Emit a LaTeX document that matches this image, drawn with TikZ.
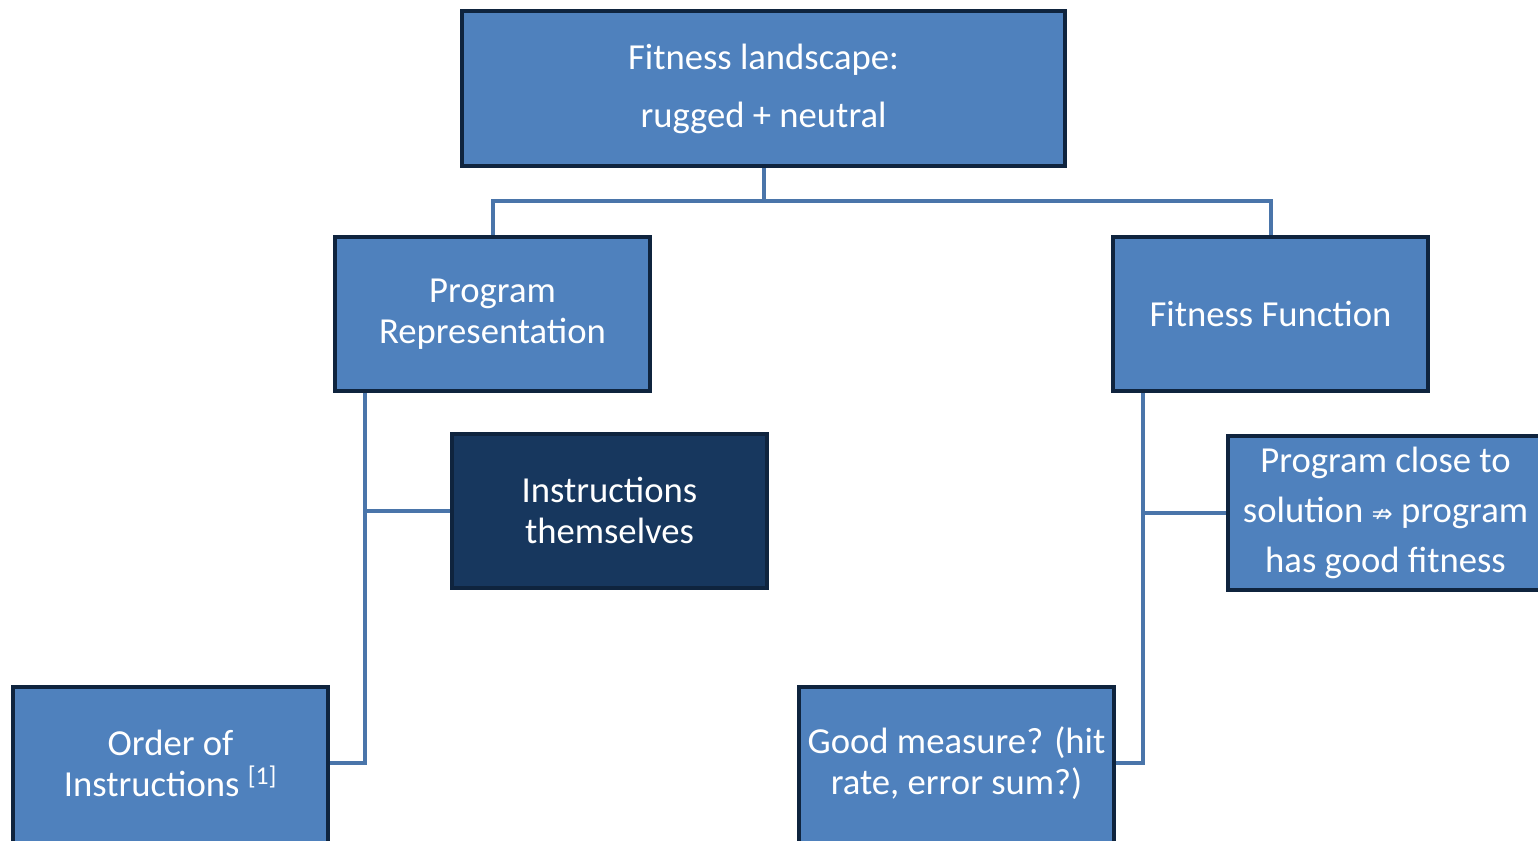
\documentclass[tikz,border=0pt]{standalone}
\usepackage{fontspec}
\setmainfont{Carlito}
\newfontfamily\symfont{DejaVu Sans}
\definecolor{boxfill}{HTML}{4F81BD}
\definecolor{boxdark}{HTML}{17375E}
\definecolor{boxline}{HTML}{0F243E}
\definecolor{linkline}{HTML}{4A75AA}
\begin{document}
\begin{tikzpicture}[x=0.75pt,y=-0.75pt,
  boxfont/.style={text=white,align=center,font=\fontsize{27.5}{30.75}\selectfont},
  box/.style={draw=boxline,line width=3pt,fill=boxfill,boxfont,
    minimum width=236pt,minimum height=115.5pt,inner sep=0pt},
  darkbox/.style={box,fill=boxdark},
  % boxes of the bottom row run past the lower edge; their text sits higher
  lowbox/.style={box,minimum height=126pt,
    label={[boxfont,yshift=6pt]center:#1}},
  link/.style={draw=linkline,line width=3pt}]
\useasboundingbox (0,0) rectangle (1538,840);
% top level
\node[box,minimum width=452pt,minimum height=116pt,
  font=\fontsize{27.5}{43.5}\selectfont] (top) at (763.5,88.5) {Fitness landscape:\\rugged + neutral};
% second level
\node[box] (rep) at (492.5,314) {Program\\Representation};
\node[box] (fit) at (1270.5,314) {Fitness Function};
% third level
\node[darkbox] (ins) at (609.5,510.5) {Instructions\\themselves};
\node[box,font=\fontsize{27.5}{37.5}\selectfont] (close) at (1385.5,512.5)
  {Program close to\\solution {\symfont\fontsize{19}{19}\selectfont ⇏} program\\has good fitness};
% bottom row
\node[lowbox={Order of\\Instructions \textsuperscript{[1]}}] (ord) at (170.5,771) {};
\node[lowbox={Good measure? (hit\\rate, error sum?)}] (meas) at (956.5,771) {};
% connectors
\coordinate (bus) at (763.5,201);
\draw[link] (top.south) -- (bus);
\draw[link] (rep.north) |- (bus) -| (fit.north);
\draw[link] (rep.south -| 365,0) |- (ins.west);
\draw[link] (rep.south -| 365,0) |- ([yshift=6pt]ord.east);
\draw[link] (fit.south -| 1143,0) |- (close.west);
\draw[link] (fit.south -| 1143,0) |- ([yshift=6pt]meas.east);
\end{tikzpicture}
\end{document}
